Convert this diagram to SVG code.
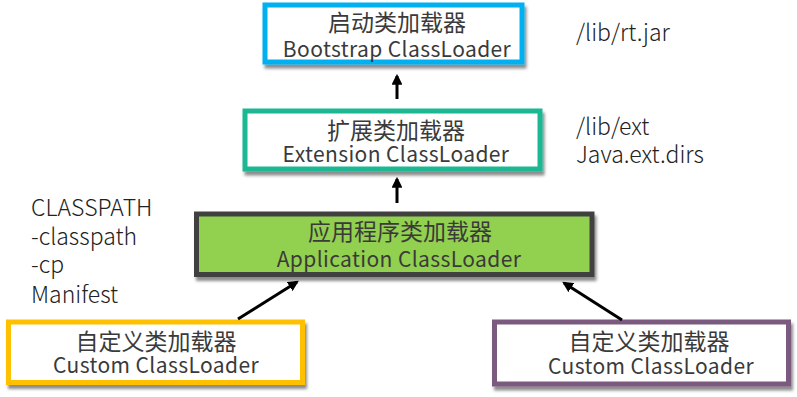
<svg xmlns="http://www.w3.org/2000/svg" width="797" height="397" viewBox="0 0 797 397">
<style>
.box{fill:#fff;stroke-width:5;filter:url(#sh)}
.cn{font-family:"Noto Sans CJK SC","Noto Sans",sans-serif;font-size:23px;fill:#3a3a3a;text-anchor:middle}
.en{font-family:"Noto Sans CJK SC","Noto Sans",sans-serif;font-size:21px;letter-spacing:0.4px;fill:#3a3a3a;text-anchor:middle}
.side{font-family:"Noto Sans CJK SC","Noto Sans",sans-serif;font-weight:300;font-size:23px;fill:#222}
.conn{stroke:#000;stroke-width:3;fill:none;marker-end:url(#ah)}
</style>
<defs>
<filter id="sh" x="-10%" y="-20%" width="120%" height="150%">
<feDropShadow dx="2" dy="4" stdDeviation="1.5" flood-color="#000" flood-opacity="0.45"/>
</filter>
<marker id="ah" viewBox="0 0 10 10" refX="8" refY="5" markerWidth="3.6" markerHeight="3.6" orient="auto" markerUnits="strokeWidth">
<path d="M0,0 L10,5 L0,10 z" fill="#000"/>
</marker>
</defs>
<g id="bootstrap">
<rect class="box" x="265" y="5" width="257" height="57" style="stroke:#00B0F0"/>
<text class="cn" x="397" y="31">启动类加载器</text>
<text class="en" x="397" y="57">Bootstrap ClassLoader</text>
</g>
<g id="extension">
<rect class="box" x="245" y="111" width="295" height="58" style="stroke:#1BB894"/>
<text class="cn" x="396" y="139">扩展类加载器</text>
<text class="en" x="396" y="162">Extension ClassLoader</text>
</g>
<g id="application">
<rect class="box" x="196.5" y="214" width="395.5" height="60.5" style="stroke:#404040;fill:#92D050"/>
<text class="cn" x="400" y="240">应用程序类加载器</text>
<text class="en" x="399" y="267">Application ClassLoader</text>
</g>
<g id="custom1">
<rect class="box" x="8.5" y="322" width="294" height="60.5" style="stroke:#FFC000"/>
<text class="cn" x="156" y="350">自定义类加载器</text>
<text class="en" x="156" y="373">Custom ClassLoader</text>
</g>
<g id="custom2">
<rect class="box" x="494.5" y="322" width="294" height="62" style="stroke:#7B5A80"/>
<text class="cn" x="649" y="350">自定义类加载器</text>
<text class="en" x="651" y="374">Custom ClassLoader</text>
</g>
<g id="notes">
<text class="side" x="576" y="41">/lib/rt.jar</text>
<text class="side" x="576" y="135">/lib/ext</text>
<text class="side" x="576" y="163">Java.ext.dirs</text>
<text class="side" x="31" y="216">CLASSPATH</text>
<text class="side" x="31" y="245">-classpath</text>
<text class="side" x="31" y="273">-cp</text>
<text class="side" x="31" y="303">Manifest</text>
</g>
<g id="connectors">
<line class="conn" x1="397" y1="99" x2="397" y2="76"/>
<line class="conn" x1="397" y1="203" x2="397" y2="179"/>
<line class="conn" x1="238" y1="319" x2="297" y2="282"/>
<line class="conn" x1="622" y1="320" x2="564" y2="283"/>
</g>
</svg>
